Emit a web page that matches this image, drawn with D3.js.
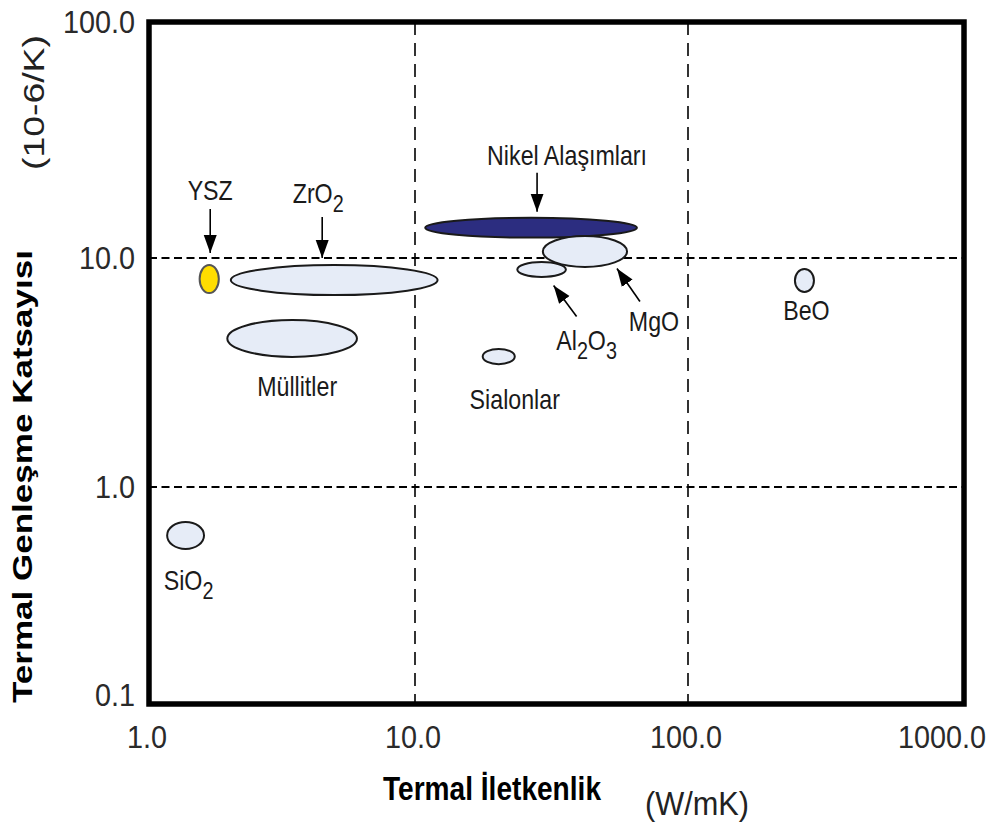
<!DOCTYPE html>
<html>
<head>
<meta charset="utf-8">
<script src="https://cdn.jsdelivr.net/npm/d3@7"></script>
<style>
  body { margin: 0; background: #fff; }
  text { font-family: "Liberation Sans", Arial, sans-serif; }
</style>
</head>
<body>
<svg id="chart" width="992" height="823"></svg>
<script>
// thermal conductivity (W/mK) and expansion coefficient (10-6/K) ranges per material
const materials = ["YSZ", "ZrO2", "Müllitler", "Nikel Alaşımları", "MgO", "Al2O3", "Sialonlar", "BeO", "SiO2"];
const kLow      = [1.55, 2.03, 1.97, 10.9, 29.4, 23.7, 17.7, 244, 1.17];
const kHigh     = [1.83, 12.1, 6.05, 65.0, 59.8, 35.7, 23.2, 286, 1.61];
const alphaLow  = [7.03, 6.89, 3.70, 12.2, 9.14, 8.26, 3.44, 7.11, 0.518];
const alphaHigh = [9.32, 9.32, 5.36, 14.8, 12.4, 9.60, 4.01, 8.96, 0.690];

const xTicks = [1, 10, 100, 1000];
const xTickLabels = ["1.0", "10.0", "100.0", "1000.0"];
const yTicks = [0.1, 1, 10, 100];
const yTickLabels = ["0.1", "1.0", "10.0", "100.0"];

const fills = {"YSZ": "#ffdd00", "Nikel Alaşımları": "#2c2d80"};

// label text pieces (sub = subscript), offsets from ellipse centre
const labels = [
  {name: "YSZ", parts: [["YSZ", 0]], dx: 1, dy: -79},
  {name: "ZrO2", parts: [["ZrO", 0], ["2", 1]], dx: -16, dy: -77},
  {name: "Müllitler", parts: [["Müllitler", 0]], dx: 5, dy: 58},
  {name: "Nikel Alaşımları", parts: [["Nikel Alaşımları", 0]], dx: 36, dy: -63},
  {name: "MgO", parts: [["MgO", 0]], dx: 69, dy: 80},
  {name: "Al2O3", parts: [["Al", 0], ["2", 1], ["O", 0], ["3", 1]], dx: 45, dy: 80},
  {name: "Sialonlar", parts: [["Sialonlar", 0]], dx: 16, dy: 52},
  {name: "BeO", parts: [["BeO", 0]], dx: 2, dy: 40},
  {name: "SiO2", parts: [["SiO", 0], ["2", 1]], dx: 3, dy: 55}
];
const arrows = [
  {name: "YSZ", from: [1, -70], to: [1, -26]},
  {name: "ZrO2", from: [-12, -63], to: [-12, -22]},
  {name: "Nikel Alaşımları", from: [6, -55], to: [6, -16]},
  {name: "MgO", from: [55, 50], to: [32, 17]},
  {name: "Al2O3", from: [35, 47], to: [12, 16]}
];

const svg = d3.select("#chart");

const x = d3.scaleLog()
  .domain(xTicks)
  .range([149, 415, 688, 964]);
const y = d3.scaleLog()
  .domain(yTicks)
  .range([704, 487, 258, 22]);

const data = materials.map((m, i) => {
  const x0 = x(kLow[i]), x1 = x(kHigh[i]);
  const y0 = y(alphaHigh[i]), y1 = y(alphaLow[i]);
  return {name: m, cx: (x0 + x1) / 2, cy: (y0 + y1) / 2, rx: (x1 - x0) / 2, ry: (y1 - y0) / 2};
});
const byName = {};
data.forEach(d => { byName[d.name] = d; });

svg.append("defs").append("marker")
  .attr("id", "head")
  .attr("markerUnits", "userSpaceOnUse")
  .attr("viewBox", "0 -7 18 14")
  .attr("refX", 18).attr("refY", 0)
  .attr("markerWidth", 18).attr("markerHeight", 14)
  .attr("orient", "auto")
  .append("path")
  .attr("d", "M0,-6.5L18,0L0,6.5Z")
  .attr("fill", "#000");

// dashed grid
svg.append("g").selectAll("line")
  .data([1, 10])
  .enter().append("line")
  .attr("x1", x(1)).attr("x2", x(1000))
  .attr("y1", d => y(d)).attr("y2", d => y(d))
  .attr("stroke", "#000").attr("stroke-width", 1.8)
  .attr("stroke-dasharray", "8,4.5");
svg.append("g").selectAll("line")
  .data([10, 100])
  .enter().append("line")
  .attr("x1", d => x(d)).attr("x2", d => x(d))
  .attr("y1", y(100)).attr("y2", y(0.1))
  .attr("stroke", "#000").attr("stroke-width", 1.6)
  .attr("stroke-dasharray", "13,8");

// ellipses
svg.append("g").selectAll("ellipse")
  .data(data)
  .enter().append("ellipse")
  .attr("cx", d => d.cx).attr("cy", d => d.cy)
  .attr("rx", d => d.rx).attr("ry", d => d.ry)
  .attr("fill", d => fills[d.name] || "#e6ecf7")
  .attr("stroke", d => d.name === "YSZ" ? "#555" : "#1a1a1a")
  .attr("stroke-width", 2);

// frame
svg.append("rect")
  .attr("x", x(1)).attr("y", y(100))
  .attr("width", x(1000) - x(1)).attr("height", y(0.1) - y(100))
  .attr("fill", "none").attr("stroke", "#000").attr("stroke-width", 5.5);

// arrows
svg.append("g").selectAll("line")
  .data(arrows)
  .enter().append("line")
  .attr("x1", d => byName[d.name].cx + d.from[0])
  .attr("y1", d => byName[d.name].cy + d.from[1])
  .attr("x2", d => byName[d.name].cx + d.to[0])
  .attr("y2", d => byName[d.name].cy + d.to[1])
  .attr("stroke", "#000").attr("stroke-width", 1.6)
  .attr("marker-end", "url(#head)");

// material labels (narrow look via horizontal squeeze)
const lab = svg.append("g").selectAll("text")
  .data(labels)
  .enter().append("text")
  .attr("transform", d => `translate(${byName[d.name].cx + d.dx},${byName[d.name].cy + d.dy}) scale(0.86,1)`)
  .attr("text-anchor", "middle")
  .attr("font-size", 27)
  .attr("fill", "#1a1a1a");
lab.each(function(d) {
  const t = d3.select(this);
  let shifted = false;
  d.parts.forEach(p => {
    const ts = t.append("tspan").text(p[0]);
    if (p[1]) { ts.attr("font-size", 23).attr("dy", 9); shifted = true; }
    else if (shifted) { ts.attr("dy", -9); shifted = false; }
  });
});

// tick labels
svg.append("g").selectAll("text")
  .data(xTicks)
  .enter().append("text")
  .attr("transform", (d, i) => {
    const px = i === xTicks.length - 1 ? x(d) - 22 : x(d) - 2;
    return `translate(${px},748) scale(0.9,1)`;
  })
  .attr("text-anchor", "middle")
  .attr("font-size", 32)
  .attr("fill", "#2a2a2a")
  .text((d, i) => xTickLabels[i]);

svg.append("g").selectAll("text")
  .data(yTicks)
  .enter().append("text")
  .attr("transform", d => `translate(135,${Math.min(y(d), y(0.1) - 9) + 11}) scale(0.9,1)`)
  .attr("text-anchor", "end")
  .attr("font-size", 32)
  .attr("fill", "#2a2a2a")
  .text((d, i) => yTickLabels[i]);

// axis titles
svg.append("text")
  .attr("x", 383).attr("y", 800)
  .attr("font-size", 33).attr("font-weight", "bold")
  .attr("textLength", 218).attr("lengthAdjust", "spacingAndGlyphs")
  .text("Termal İletkenlik");
svg.append("text")
  .attr("x", 645).attr("y", 815)
  .attr("font-size", 33)
  .attr("fill", "#222")
  .attr("textLength", 104).attr("lengthAdjust", "spacingAndGlyphs")
  .text("(W/mK)");

svg.append("text")
  .attr("transform", "translate(32,703) rotate(-90)")
  .attr("font-size", 27).attr("font-weight", "bold")
  .attr("textLength", 453).attr("lengthAdjust", "spacingAndGlyphs")
  .text("Termal Genleşme Katsayısı");
svg.append("text")
  .attr("transform", "translate(44,170) rotate(-90)")
  .attr("font-size", 29)
  .attr("fill", "#222")
  .attr("textLength", 135).attr("lengthAdjust", "spacingAndGlyphs")
  .text("(10-6/K)");
</script>
</body>
</html>
